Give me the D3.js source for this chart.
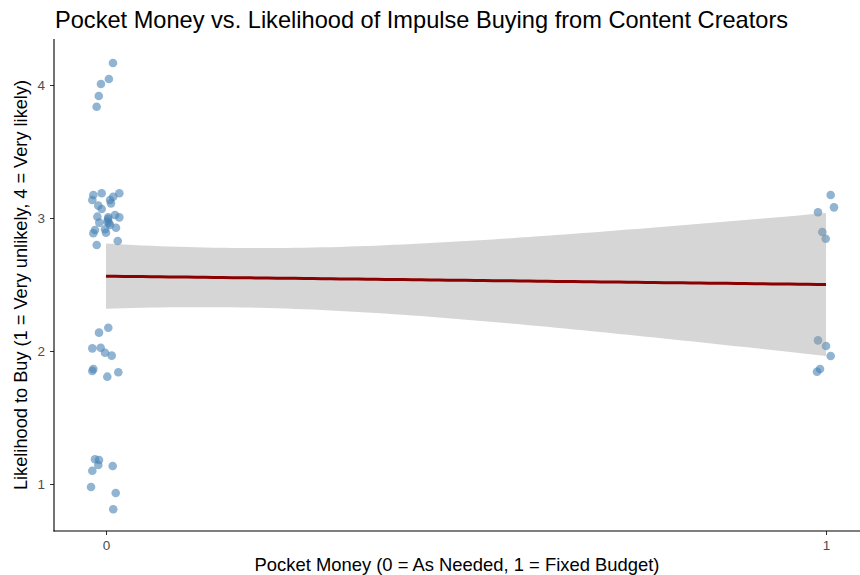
<!DOCTYPE html>
<html><head><meta charset="utf-8">
<script src="https://cdn.jsdelivr.net/npm/d3@7"></script>
<style>body{margin:0;background:#fff}svg{display:block}text{font-family:"Liberation Sans",Arial,Helvetica,sans-serif}</style>
</head><body>
<svg id="c" width="860" height="575"></svg>
<script>
// jittered observations: pocket money group (x) and likelihood (y)
const groupX = [
  0.0097,0.004,-0.007,-0.010,-0.013,
  -0.0176,-0.006,-0.019,0.010,0.0185,0.0056,0.0069,-0.0107,-0.006,-0.012,0.0032,0.0125,0.0185,-0.0093,0.0018,0.0056,-0.0153,-0.0176,-0.0014,0,0.0139,-0.0129,0.0163,0.0028,0.0042,
  0.0032,-0.0097,-0.019,-0.0074,-0.0014,0.0079,-0.0176,-0.019,0.0018,0.0171,
  -0.0153,-0.0097,-0.0107,-0.019,0.0093,-0.0208,0.0135,0.0101,
  1.0065,1.0111,0.9889,0.9949,0.9996,0.9889,1.0,1.0065,0.9917,0.9875
];
const likelihoodY = [
  4.165,4.045,4.008,3.917,3.837,
  3.173,3.186,3.135,3.160,3.186,3.135,3.110,3.093,3.068,3.010,3.005,3.023,3.005,2.965,2.972,2.947,2.910,2.885,2.915,2.889,2.927,2.797,2.827,2.992,2.962,
  2.175,2.138,2.020,2.025,1.987,1.965,1.865,1.850,1.807,1.840,
  1.186,1.180,1.143,1.100,1.135,0.977,0.932,0.810,
  3.173,3.080,3.043,2.895,2.844,2.080,2.038,1.962,1.865,1.844
];
const xTicks = [0, 1];
const yTicks = [1, 2, 3, 4];
const titleText = "Pocket Money vs. Likelihood of Impulse Buying from Content Creators";
const xTitle = "Pocket Money (0 = As Needed, 1 = Fixed Budget)";
const yTitle = "Likelihood to Buy (1 = Very unlikely, 4 = Very likely)";
const tCrit = 2.003; // 95% t quantile, df = n - 2

const svg = d3.select("#c");
const L = 54, R = 860, T = 39, B = 531;
const x = d3.scaleLinear().domain([0, 1]).range([106, 826]);
const y = d3.scaleLinear().domain([1, 4]).range([484, 85]);

// linear fit on the underlying (un-jittered) data
const pts = groupX.map((gx, i) => ({x: gx, y: likelihoodY[i], ox: Math.round(gx), oy: Math.round(likelihoodY[i])}));
const n = pts.length;
const mx = d3.mean(pts, d => d.ox), my = d3.mean(pts, d => d.oy);
const sxx = d3.sum(pts, d => (d.ox - mx) ** 2);
const sxy = d3.sum(pts, d => (d.ox - mx) * (d.oy - my));
const b1 = sxy / sxx, b0 = my - b1 * mx;
const s = Math.sqrt(d3.sum(pts, d => (d.oy - b0 - b1 * d.ox) ** 2) / (n - 2));
const grid = d3.range(0, 81).map(i => i / 80);
const band = grid.map(g => {
  const fit = b0 + b1 * g;
  const se = s * Math.sqrt(1 / n + (g - mx) ** 2 / sxx);
  return {g, fit, lo: fit - tCrit * se, hi: fit + tCrit * se};
});

// points
svg.append("g").selectAll("circle").data(pts).join("circle")
  .attr("cx", d => x(d.x)).attr("cy", d => y(d.y)).attr("r", 4.3)
  .attr("fill", "#4682B4").attr("fill-opacity", 0.6);

// confidence band
svg.append("path").datum(band)
  .attr("d", d3.area().x(d => x(d.g)).y0(d => y(d.lo)).y1(d => y(d.hi)))
  .attr("fill", "#999999").attr("fill-opacity", 0.4);

// fit line
svg.append("path").datum(band)
  .attr("d", d3.line().x(d => x(d.g)).y(d => y(d.fit)))
  .attr("fill", "none").attr("stroke", "#8B0000").attr("stroke-width", 3);

// axes
const gx = svg.append("g").attr("transform", `translate(0,${B})`)
  .call(d3.axisBottom(x).tickValues(xTicks).tickFormat(d3.format("d")).tickSize(4).tickPadding(5));
const gy = svg.append("g").attr("transform", `translate(${L},0)`)
  .call(d3.axisLeft(y).tickValues(yTicks).tickFormat(d3.format("d")).tickSize(4).tickPadding(5));
[gx, gy].forEach(g => {
  g.select(".domain").remove();
  g.selectAll(".tick line").attr("stroke", "#333").attr("stroke-width", 1);
  g.selectAll(".tick text").attr("fill", "#4d4d4d").attr("font-size", 13.5).style("font-family", '"Liberation Sans",Arial,sans-serif');
});
svg.append("line").attr("x1", L).attr("x2", L).attr("y1", T).attr("y2", B + 0.5).attr("stroke", "#000").attr("stroke-width", 1.1);
svg.append("line").attr("x1", L - 0.5).attr("x2", R).attr("y1", B).attr("y2", B).attr("stroke", "#000").attr("stroke-width", 1.1);

// titles
svg.append("text").attr("x", 55).attr("y", 28).attr("font-size", 23.6).attr("fill", "#000").text(titleText);
svg.append("text").attr("x", (L + R) / 2).attr("y", 571).attr("text-anchor", "middle").attr("font-size", 18.4).attr("fill", "#000").text(xTitle);
svg.append("text").attr("transform", `translate(27,${(T + B) / 2}) rotate(-90)`).attr("text-anchor", "middle").attr("font-size", 18.2).attr("fill", "#000").text(yTitle);
</script>
</body></html>
